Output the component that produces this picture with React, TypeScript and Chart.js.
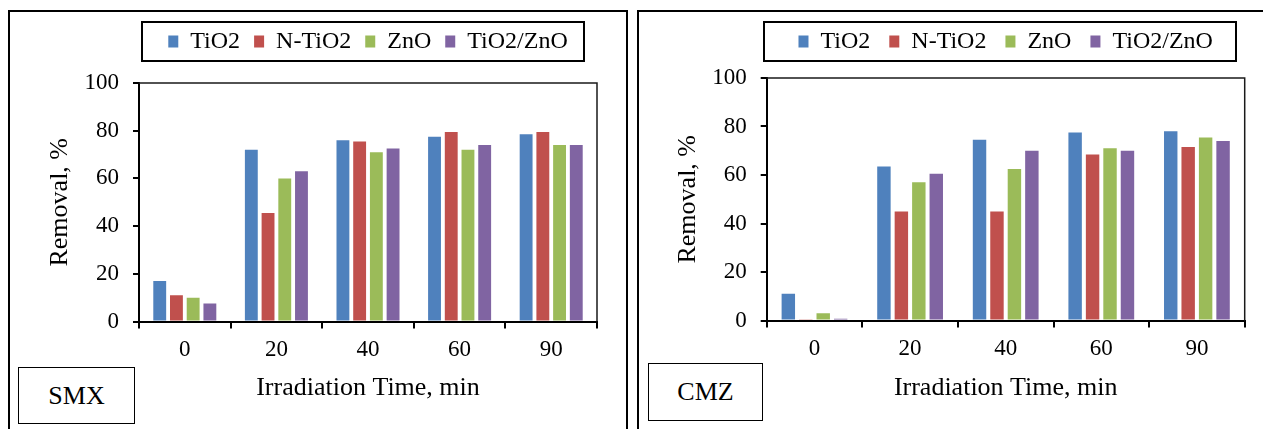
import React, { useEffect, useRef } from 'react';
import { Chart, registerables } from 'chart.js';

Chart.register(...registerables);

const categories = ['0', '20', '40', '60', '90'];
const seriesNames = ['TiO2', 'N-TiO2', 'ZnO', 'TiO2/ZnO'];
const seriesColors = ['#4F81BD', '#C0504D', '#9BBB59', '#8064A2'];

// SMX removal (%)
const smxTiO2 = [17, 72, 76, 77.5, 78.5];
const smxNTiO2 = [11, 45.5, 75.5, 79.5, 79.5];
const smxZnO = [10, 60, 71, 72, 74];
const smxTiO2ZnO = [7.5, 63, 72.5, 74, 74];

// CMZ removal (%)
const cmzTiO2 = [11, 63.5, 74.5, 77.5, 78];
const cmzNTiO2 = [0.5, 45, 45, 68.5, 71.5];
const cmzZnO = [3, 57, 62.5, 71, 75.5];
const cmzTiO2ZnO = [0.7, 60.5, 70, 70, 74];

const yMin = 0;
const yMax = 100;
const yStep = 10;
const yLabelStep = 20;

const xTitle = 'Irradiation Time, min';
const yTitle = 'Removal, %';

const FONT = "'Times New Roman', 'Liberation Serif', serif";

const decorPlugin = {
  id: 'decor',
  afterDraw(chart: any, _args: any, opts: any) {
    const { ctx, chartArea: a } = chart;
    ctx.save();
    ctx.strokeStyle = '#1a1a1a';
    ctx.lineWidth = 1.5;
    ctx.beginPath();
    ctx.moveTo(a.left, a.top);
    ctx.lineTo(a.right, a.top);
    ctx.lineTo(a.right, a.bottom);
    ctx.stroke();
    if (opts && opts.legendBox) {
      const b = opts.legendBox;
      ctx.lineWidth = 2;
      ctx.strokeStyle = '#000';
      ctx.strokeRect(b[0], b[1], b[2] - b[0], b[3] - b[1]);
    }
    ctx.restore();
  },
};

type Layout = {
  padding: { left: number; right: number; top: number; bottom: number };
  yWidth: number;
  xHeight: number;
  legendPad: number;
  gap: number;
  legendBox: number[];
};

function Panel(props: { series: number[][]; layout: Layout; left: number; width: number; height: number }) {
  const ref = useRef<HTMLCanvasElement | null>(null);
  const { series, layout, left, width, height } = props;
  useEffect(() => {
    if (!ref.current) return;
    const chart = new Chart(ref.current, {
      type: 'bar',
      data: {
        labels: categories,
        datasets: seriesNames.map((name, i) => ({
          label: name,
          data: series[i],
          backgroundColor: seriesColors[i],
          borderWidth: 0,
          barPercentage: 0.77,
          categoryPercentage: 0.73,
        })),
      },
      options: {
        responsive: false,
        animation: false,
        devicePixelRatio: 1,
        layout: { padding: layout.padding },
        plugins: {
          legend: {
            position: 'top',
            fullSize: false,
            labels: {
              boxWidth: 10,
              boxHeight: 12,
              padding: layout.legendPad,
              color: '#000',
              font: { family: FONT, size: 24 },
            },
          },
          subtitle: {
            display: true,
            text: '',
            position: 'top',
            fullSize: false,
            weight: 500,
            font: { size: 1, lineHeight: 1 },
            padding: { top: layout.gap, bottom: 0 },
          },
          tooltip: { enabled: false },
          decor: { legendBox: layout.legendBox },
        } as any,
        scales: {
          x: {
            afterFit: (s: any) => {
              s.height = layout.xHeight;
            },
            grid: {
              display: true,
              drawOnChartArea: false,
              drawTicks: true,
              tickLength: 7,
              lineWidth: 2,
              color: '#000',
              offset: true,
            },
            border: { display: true, color: '#000', width: 2 },
            ticks: { color: '#000', padding: 8, font: { family: FONT, size: 23 } },
            title: {
              display: true,
              text: xTitle,
              color: '#000',
              font: { family: FONT, size: 26 },
              padding: { top: 0, bottom: 25 },
            },
          },
          y: {
            min: yMin,
            max: yMax,
            afterFit: (s: any) => {
              s.width = layout.yWidth;
            },
            grid: {
              display: true,
              drawOnChartArea: false,
              drawTicks: true,
              tickLength: 6,
              lineWidth: 2,
              color: '#000',
            },
            border: { display: true, color: '#000', width: 2 },
            ticks: {
              stepSize: yStep,
              padding: 14,
              color: '#000',
              font: { family: FONT, size: 23 },
              callback: (v: any) => (Number(v) % yLabelStep === 0 ? String(v) : ''),
            },
            title: {
              display: true,
              text: yTitle,
              color: '#000',
              font: { family: FONT, size: 26 },
              padding: { top: 5, bottom: 0 },
            },
          },
        },
      },
      plugins: [decorPlugin as any],
    });
    return () => chart.destroy();
  }, []);
  return (
    <canvas
      ref={ref}
      width={width}
      height={height}
      style={{ position: 'absolute', left, top: 0, width, height }}
    />
  );
}

const leftLayout: Layout = {
  padding: { left: 40, right: 35, top: 15.5, bottom: 0 },
  yWidth: 99,
  xHeight: 107.5,
  legendPad: 14,
  gap: 18.5,
  legendBox: [142, 22, 584, 61],
};

const rightLayout: Layout = {
  padding: { left: 36, right: 18.3, top: 10.5, bottom: 0 },
  yWidth: 98.7,
  xHeight: 108.5,
  legendPad: 19,
  gap: 13.5,
  legendBox: [132, 22, 604, 61],
};

const tagStyle = (left: number, top: number, w: number, h: number): React.CSSProperties => ({
  position: 'absolute',
  left,
  top,
  width: w,
  height: h,
  border: '1.5px solid #000',
  boxSizing: 'border-box',
  display: 'flex',
  alignItems: 'center',
  justifyContent: 'center',
  fontFamily: FONT,
  fontSize: 26,
  color: '#000',
  background: '#fff',
});

export default function App() {
  return (
    <div style={{ position: 'absolute', left: 0, top: 0, width: 1263, height: 429, overflow: 'hidden', background: '#fff' }}>
      <div style={{ position: 'absolute', left: 8, top: 10, width: 620, height: 440, border: '2px solid #000', boxSizing: 'border-box' }} />
      <div style={{ position: 'absolute', left: 637, top: 10, width: 640, height: 440, border: '2px solid #000', boxSizing: 'border-box' }} />
      <Panel series={[smxTiO2, smxNTiO2, smxZnO, smxTiO2ZnO]} layout={leftLayout} left={0} width={632} height={429} />
      <Panel series={[cmzTiO2, cmzNTiO2, cmzZnO, cmzTiO2ZnO]} layout={rightLayout} left={632} width={631} height={429} />
      <div style={tagStyle(18, 367, 117, 57)}>SMX</div>
      <div style={tagStyle(648, 363, 115, 58)}>CMZ</div>
    </div>
  );
}
